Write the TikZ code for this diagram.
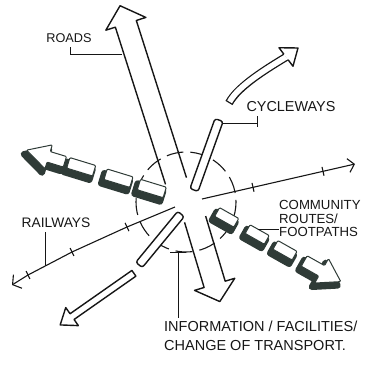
\documentclass[tikz,border=0pt]{standalone}
\usepackage{fontspec}
\setmainfont{Liberation Sans}
\usetikzlibrary{arrows.meta,calc}
\definecolor{routedark}{HTML}{2F3B37}
\definecolor{ink}{HTML}{161616}
\newcommand\routepiece[4]{%
  \begin{scope}[shift={(#1-3,#2+4)},rotate=#3]
    \filldraw[routedark,line width=6pt,line join=round] #4;
  \end{scope}
  \begin{scope}[shift={(#1,#2)},rotate=#3]
    \filldraw[fill=white,draw=routedark,line width=1pt,line join=round,rounded corners=1pt] #4;
  \end{scope}}
\tikzset{
  outline/.style={draw=ink,line width=1.4pt,line join=round},
  leader/.style={draw=ink,line width=1pt},
  rail/.style={draw=ink,line width=1.1pt},
  lbl/.style={inner sep=0pt,text=ink},
}
\begin{document}
\begin{tikzpicture}[x=1pt,y=-1pt]
\useasboundingbox (0,0) rectangle (370,365);
\coordinate (hub) at (186,202);
% dashed circle
\draw[ink,line width=1.1pt,dash pattern=on 17pt off 7pt] (hub) circle[radius=50];

% roads: upper arrow
\begin{scope}[shift={(176,181)},rotate=107.7]
  \draw[outline] (0,-11) -- (165,-11) -- (165,-21) -- (184,0) -- (165,21) -- (165,11) -- (0,11);
\end{scope}
% roads: lower arrow
\begin{scope}[shift={(195.1,219.2)},rotate=-73.3]
  \draw[outline] (0,-11) -- (68,-11) -- (68,-21) -- (86,0) -- (68,21) -- (68,11) -- (0,11);
\end{scope}

% cycleways: bars
\begin{scope}[shift={(194,190)},rotate=70.3]
  \filldraw[outline,fill=white,rounded corners=2.5pt] (0,-4.3) rectangle (74.3,4.3);
\end{scope}
\begin{scope}[shift={(181,214)},rotate=-129.5]
  \filldraw[outline,fill=white,rounded corners=2.5pt] (0,-4.2) rectangle (66,4.2);
\end{scope}
% cycleways: lower-left arrow
\begin{scope}[shift={(133.9,273.3)},rotate=215]
  \filldraw[outline,fill=white] (0,3.5) -- (75.5,3.5) -- (75.5,11) -- (90,0) -- (75.5,-11) -- (75.5,-3.5) -- (0,-3.5) -- cycle;
\end{scope}
% cycleways: curved arrow
\coordinate (cs) at (229,103);
\coordinate (ce) at (286,57);
\draw[ink,line width=8.2pt] (cs) .. controls (238,86) and (268,68) .. (ce);
\draw[white,line width=5.6pt,shorten <=1.3pt] (cs) .. controls (238,86) and (268,68) .. (ce);
\begin{scope}[shift={(ce)},rotate=36.9]
  \filldraw[outline,fill=white] (0,3.5) -- (0,11.6) -- (15,0) -- (0,-11.6) -- (0,-3.5);
\end{scope}

% community routes / footpaths (left)
\routepiece{151.8}{188.5}{163}{(-13.5,-5.5) rectangle (13.5,5.5)}
\routepiece{118.5}{178.2}{163}{(-13.5,-5.5) rectangle (13.5,5.5)}
\routepiece{81.2}{166.8}{163}{(-13.5,-5.5) rectangle (13.5,5.5)}
\routepiece{64.9}{161.8}{163}{(0,-5.5) -- (17,-5.5) -- (17,-12.5) -- (40,0) -- (17,12.5) -- (17,5.5) -- (0,5.5) -- cycle}
% community routes / footpaths (right)
\routepiece{226.7}{217.4}{-29.4}{(-11,-5) rectangle (11,5)}
\routepiece{257.2}{234.5}{-29.4}{(-11,-5) rectangle (11,5)}
\routepiece{285}{250.3}{-29.4}{(-11,-5) rectangle (11,5)}
\routepiece{304.2}{261}{-29.4}{(0,-6) -- (20,-6) -- (20,-14) -- (42,0) -- (20,14) -- (20,6) -- (0,6) -- cycle}

% railways
\coordinate (rr0) at (202,199);
\coordinate (rr1) at (355,164);
\draw[rail,-{Straight Barb[length=6pt,width=14pt]}] (rr0) -- (rr1);
\draw[rail] (252,182.9) -- (254,191.7);
\draw[rail] (322,166.9) -- (324,175.7);
\coordinate (rl0) at (175,207);
\coordinate (rl1) at (127,227);
\coordinate (rl2) at (72,252);
\coordinate (rl3) at (28,275);
\coordinate (rl4) at (12,285);
\draw[rail,-{Straight Barb[length=6pt,width=16pt]}] (rl0) -- (rl1) -- (rl2) -- (rl3) -- (rl4);
\draw[rail] (125.1,222.9) -- (128.9,231.1);
\draw[rail] (70.1,248) -- (73.9,256);
\draw[rail] (26.1,271) -- (29.9,279);

% labels
\node[lbl,font=\fontsize{12.7}{14}\selectfont] (roads) at (69,38) {ROADS};
\draw[leader] (70,47) -- (70,54) -- (121.5,54);

\node[lbl,font=\fontsize{14.4}{16}\selectfont] (cyc) at (291,107) {CYCLEWAYS};
\draw[leader] (223,123) -- (257,123);
\draw[leader] (257,116) -- (257,127);

\node[lbl,font=\fontsize{13.8}{15}\selectfont] (rail) at (56,223) {RAILWAYS};
\draw[leader] (45,232) -- (45,266);

\node[lbl,anchor=north west,align=left,font=\fontsize{13.2}{13.6}\selectfont] (comm) at (279,200) {COMMUNITY\\ROUTES/\\FOOTPATHS};
\draw[leader] (258,229) -- (279,229);

\draw[leader] (170,252) -- (186,252);
\draw[leader] (178,252) -- (178,318);
\node[lbl,anchor=north west,align=left,font=\fontsize{14.5}{19}\selectfont] (info) at (164,321) {INFORMATION / FACILITIES/\\CHANGE OF TRANSPORT.};
\end{tikzpicture}
\end{document}
